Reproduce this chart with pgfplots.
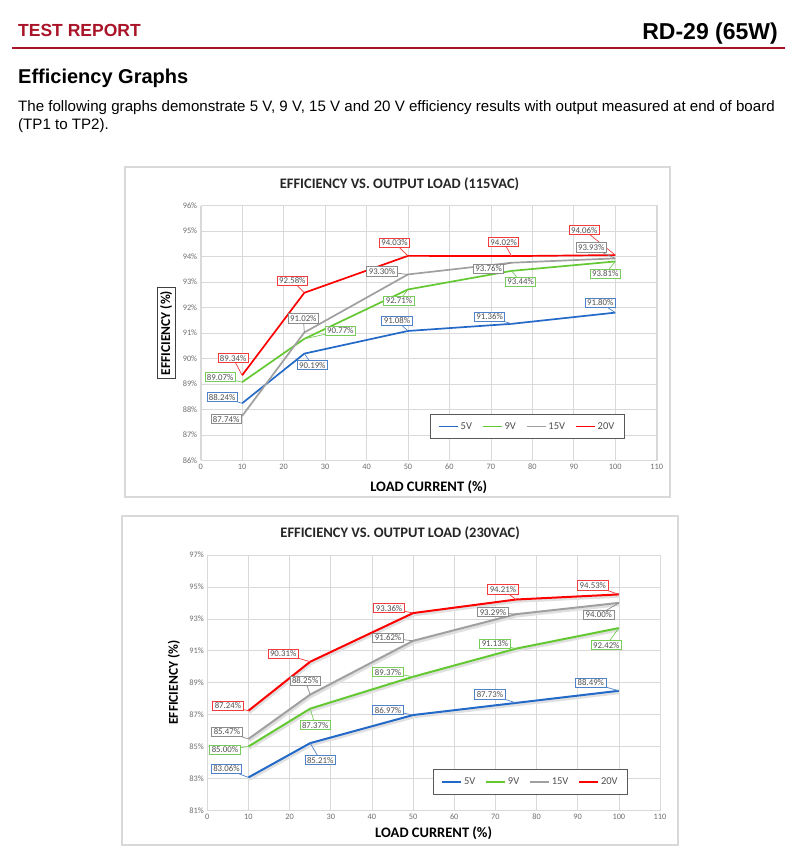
\documentclass[border=0pt]{standalone}
\usepackage{fontspec}
\setmainfont{Carlito}
\newfontfamily\arial{Liberation Sans}
\usepackage{pgfplots}
\pgfplotsset{compat=1.18}

\definecolor{reportred}{RGB}{170,20,40}
\definecolor{framegray}{RGB}{217,217,217}
\definecolor{gridgray}{RGB}{217,217,217}
\definecolor{tickgray}{RGB}{110,110,110}
\definecolor{lbltext}{RGB}{80,80,80}
\definecolor{c5}{RGB}{35,105,200}
\definecolor{c9}{RGB}{100,200,50}
\definecolor{c15}{RGB}{160,160,160}
\definecolor{c20}{RGB}{255,0,0}
\definecolor{b5}{RGB}{80,130,200}
\definecolor{b9}{RGB}{120,205,90}
\definecolor{b15}{RGB}{140,140,140}
\definecolor{b20}{RGB}{240,60,60}

\newcommand\lblfont{\fontsize{8.8}{9.5}\selectfont}
% callout: x, value, dx, dy (pt), border colour
\newcommand\callout[5]{%
  \draw[#5, line width=0.7pt] (axis cs:#1,#2) -- ++(#3pt,#4pt)
    node[draw=#5, fill=white, text=lbltext, inner xsep=2pt, inner ysep=1.6pt,
         line width=0.9pt, font=\lblfont] {#2\%};}

\pgfplotsset{effstyle/.style={
    scale only axis,
    clip=false,
    xmin=0, xmax=110, xtick distance=10,
    grid=major,
    major grid style={draw=gridgray, line width=0.6pt},
    axis line style={draw=gridgray},
    major tick length=0pt,
    tick label style={font=\fontsize{8.3}{9}\selectfont, text=tickgray},
    yticklabel={\pgfmathprintnumber{\tick}\%},
    /pgf/number format/assume math mode=true,
    title style={font=\bfseries\fontsize{14.5}{16}\selectfont, text=black!85, anchor=center},
    xlabel={LOAD CURRENT (\%)},
    ylabel={EFFICIENCY (\%)},
    xlabel style={font=\bfseries\fontsize{14.5}{16}\selectfont, anchor=center},
    ylabel style={font=\bfseries\fontsize{13.5}{15}\selectfont, anchor=center},
    legend columns=4,
    legend style={draw=black!65, line width=1pt, anchor=center,
      font=\fontsize{10.5}{12}\selectfont, text=lbltext,
      inner xsep=8pt, inner ysep=6pt,
      /tikz/every even column/.append style={column sep=8pt}},
    legend image code/.code={\draw[##1, line width=1.6pt] (0pt,0pt) -- (19pt,0pt);},
    every axis plot/.append style={line width=1.7pt},
  }}

\begin{document}
\begin{tikzpicture}[x=1pt,y=1pt]
\path[use as bounding box, fill=white] (0,0) rectangle (800,867);

% page header
\node[anchor=base west, inner sep=0, text=reportred,
      font=\arial\bfseries\fontsize{17.5}{20}\selectfont] at (18,830) {TEST REPORT};
\node[anchor=base east, inner sep=0,
      font=\arial\bfseries\fontsize{23}{26}\selectfont] at (778,827) {RD-29 (65W)};
\draw[reportred, line width=2pt] (12,819) -- (785,819);
\node[anchor=base west, inner sep=0,
      font=\arial\bfseries\fontsize{20}{24}\selectfont] at (18,783) {Efficiency Graphs};
\node[anchor=base west, inner sep=0, font=\arial\fontsize{15.1}{18}\selectfont] at (18,755)
  {The following graphs demonstrate 5 V, 9 V, 15 V and 20 V efficiency results with output measured at end of board};
\node[anchor=base west, inner sep=0, font=\arial\fontsize{15.1}{18}\selectfont] at (18,737)
  {(TP1 to TP2).};

% chart frames
\draw[framegray, line width=1.5pt] (125,370) rectangle (670,700);
\draw[framegray, line width=1.5pt] (122,22) rectangle (678,351);

% ---- 115 VAC ----
\begin{axis}[effstyle,
  at={(200.7pt,406.7pt)}, anchor=south west,
  width=456pt, height=254.6pt,
  ymin=86, ymax=96, ytick={86,87,...,96},
  title={EFFICIENCY VS. OUTPUT LOAD (115VAC)},
  title style={at={(axis description cs:0.436,1.059)}},
  xlabel style={at={(axis description cs:0.5,-0.105)}},
  ylabel style={at={(axis description cs:-0.0757,0.5)}, draw=black!75,
                line width=1pt, fill=white, inner sep=3pt},
  legend style={at={(0.716,0.133)}},
]
\addplot[c5] coordinates {(10,88.24) (25,90.19) (50,91.08) (75,91.36) (100,91.80)};
\addlegendentry{5V}
\addplot[c9] coordinates {(10,89.07) (25,90.77) (50,92.71) (75,93.44) (100,93.81)};
\addlegendentry{9V}
\addplot[c15] coordinates {(10,87.74) (25,91.02) (50,93.30) (75,93.76) (100,93.93)};
\addlegendentry{15V}
\addplot[c20] coordinates {(10,89.34) (25,92.58) (50,94.03) (75,94.02) (100,94.06)};
\addlegendentry{20V}

\callout{10}{89.34}{-9}{17}{b20}
\callout{25}{92.58}{-12}{12}{b20}
\callout{50}{94.03}{-13.5}{13}{b20}
\callout{75}{94.02}{-8}{14}{b20}
\callout{100}{94.06}{-31}{25}{b20}

\callout{10}{87.74}{-16}{-3.3}{b15}
\callout{25}{91.02}{-1}{14}{b15}
\callout{50}{93.30}{-26}{3}{b15}
\callout{75}{93.76}{-23}{-6}{b15}
\callout{100}{93.93}{-24}{11}{b15}

\callout{10}{89.07}{-22}{5}{b9}
\callout{25}{90.77}{36}{8}{b9}
\callout{50}{92.71}{-9}{-11.5}{b9}
\callout{75}{93.44}{9}{-11}{b9}
\callout{100}{93.81}{-10}{-12.5}{b9}

\callout{10}{88.24}{-20}{6}{b5}
\callout{25}{90.19}{8}{-11.5}{b5}
\callout{50}{91.08}{-11}{10}{b5}
\callout{75}{91.36}{-22}{7}{b5}
\callout{100}{91.80}{-15}{10}{b5}
\end{axis}

% ---- 230 VAC ----
\begin{axis}[effstyle,
  at={(207.3pt,56.7pt)}, anchor=south west,
  width=452.7pt, height=255.3pt,
  ymin=81, ymax=97, ytick={81,83,...,97},
  title={EFFICIENCY VS. OUTPUT LOAD (230VAC)},
  title style={at={(axis description cs:0.426,1.063)}},
  xlabel style={at={(axis description cs:0.5,-0.089)}},
  ylabel style={at={(axis description cs:-0.074,0.5)}},
  legend style={at={(0.714,0.111)}},
  every axis plot/.append style={line width=2pt},
]
% soft shadows under the lines
\addplot[forget plot, draw=black!12, line width=2.6pt, shift={(1pt,-2pt)}]
  coordinates {(10,83.06) (25,85.21) (50,86.97) (75,87.73) (100,88.49)};
\addplot[forget plot, draw=black!12, line width=2.6pt, shift={(1pt,-2pt)}]
  coordinates {(10,85.00) (25,87.37) (50,89.37) (75,91.13) (100,92.42)};
\addplot[forget plot, draw=black!12, line width=2.6pt, shift={(1pt,-2pt)}]
  coordinates {(10,85.47) (25,88.25) (50,91.62) (75,93.29) (100,94.00)};
\addplot[forget plot, draw=black!12, line width=2.6pt, shift={(1pt,-2pt)}]
  coordinates {(10,87.24) (25,90.31) (50,93.36) (75,94.21) (100,94.53)};

\addplot[c5] coordinates {(10,83.06) (25,85.21) (50,86.97) (75,87.73) (100,88.49)};
\addlegendentry{5V}
\addplot[c9] coordinates {(10,85.00) (25,87.37) (50,89.37) (75,91.13) (100,92.42)};
\addlegendentry{9V}
\addplot[c15] coordinates {(10,85.47) (25,88.25) (50,91.62) (75,93.29) (100,94.00)};
\addlegendentry{15V}
\addplot[c20] coordinates {(10,87.24) (25,90.31) (50,93.36) (75,94.21) (100,94.53)};
\addlegendentry{20V}

\callout{10}{87.24}{-20.5}{5}{b20}
\callout{25}{90.31}{-27}{8}{b20}
\callout{50}{93.36}{-24}{5}{b20}
\callout{75}{94.21}{-13}{10}{b20}
\callout{100}{94.53}{-26}{9}{b20}

\callout{10}{85.47}{-21.5}{7}{b15}
\callout{25}{88.25}{-5}{14}{b15}
\callout{50}{91.62}{-25}{3}{b15}
\callout{75}{93.29}{-23}{2}{b15}
\callout{100}{94.00}{-20}{-12}{b15}

\callout{10}{85.00}{-23.5}{-3.5}{b9}
\callout{25}{87.37}{5}{-16.5}{b9}
\callout{50}{89.37}{-25}{4.5}{b9}
\callout{75}{91.13}{-21}{5}{b9}
\callout{100}{92.42}{-12.5}{-17}{b9}

\callout{10}{83.06}{-22}{8.5}{b5}
\callout{25}{85.21}{10}{-17}{b5}
\callout{50}{86.97}{-25}{5}{b5}
\callout{75}{87.73}{-26}{8.5}{b5}
\callout{100}{88.49}{-28}{8}{b5}
\end{axis}
\end{tikzpicture}
\end{document}
